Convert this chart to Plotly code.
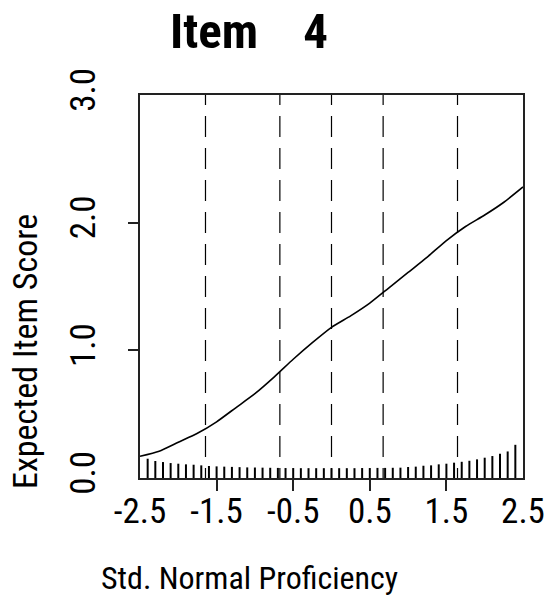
import plotly.graph_objects as go

# ---- data ----
theta = [-2.5, -2.25, -2.0, -1.75, -1.5, -1.25, -1.0, -0.75, -0.5, -0.25,
         0.0, 0.25, 0.5, 0.75, 1.0, 1.25, 1.5, 1.75, 2.0, 2.25, 2.5]
expected_score = [0.17, 0.21, 0.28, 0.35, 0.44, 0.55, 0.66, 0.79, 0.93, 1.06,
                  1.18, 1.27, 1.37, 1.49, 1.61, 1.73, 1.86, 1.97, 2.06, 2.16, 2.28]

rug_x = [round(-2.4 + 0.1 * i, 1) for i in range(49)]
rug_h = [0.151, 0.133, 0.125, 0.117, 0.112, 0.107, 0.104, 0.099, 0.094, 0.091,
         0.089, 0.087, 0.085, 0.083, 0.082, 0.081, 0.080, 0.079, 0.078, 0.078,
         0.077, 0.077, 0.077, 0.077, 0.077, 0.077, 0.077, 0.077, 0.078, 0.078,
         0.079, 0.079, 0.080, 0.081, 0.086, 0.089, 0.096, 0.099, 0.107, 0.112,
         0.120, 0.127, 0.135, 0.146, 0.159, 0.172, 0.190, 0.208, 0.260]

quantiles = [-1.645, -0.674, 0.0, 0.674, 1.645]

x_ticks = [-2.5, -1.5, -0.5, 0.5, 1.5, 2.5]
x_ticktext = ["-2.5", "-1.5", "-0.5", "0.5", "1.5", "2.5"]
x_marks = [-1.5, -0.5, 0.5, 1.5]
y_ticks = [0, 1, 2, 3]
y_ticktext = ["0.0", "1.0", "2.0", "3.0"]
y_marks = [1, 2]

title_text = "Item\u00a0\u00a0\u00a0\u00a04"
x_title = "Std. Normal Proficiency"
y_title = "Expected Item Score"

FONT = "Roboto Condensed, Liberation Sans, Arial, sans-serif"
FS = 35

W, H = 548, 598
L, R, T, B = 140, 25, 95, 120
PW, PH = W - L - R, H - T - B


def px(xp):
    return (xp - L) / PW


def py(yp):
    return (H - B - yp) / PH


fig = go.Figure()

# rug spikes
sx, sy = [], []
for xv, hv in zip(rug_x, rug_h):
    sx += [xv, xv, None]
    sy += [0, hv, None]
fig.add_trace(go.Scatter(x=sx, y=sy, mode="lines",
                         line=dict(color="black", width=2),
                         hoverinfo="skip", showlegend=False))

# dashed quantile lines
dash = "10px,11px," + ",".join(["21px,11px"] * 11) + ",21px,11px"
for q in quantiles:
    fig.add_trace(go.Scatter(x=[q, q], y=[0, 3], mode="lines",
                             line=dict(color="black", width=1.2, dash=dash),
                             hoverinfo="skip", showlegend=False))

# expected score curve
fig.add_trace(go.Scatter(x=theta, y=expected_score, mode="lines",
                         line=dict(color="black", width=1.6, shape="spline", smoothing=0.6),
                         showlegend=False))

# invisible traces to activate overlay axes (tick marks only)
fig.add_trace(go.Scatter(x=x_marks, y=[1.5] * len(x_marks), xaxis="x2", yaxis="y",
                         mode="markers", marker=dict(opacity=0), hoverinfo="skip",
                         showlegend=False))
fig.add_trace(go.Scatter(x=[0, 0], y=y_marks, xaxis="x", yaxis="y2",
                         mode="markers", marker=dict(opacity=0), hoverinfo="skip",
                         showlegend=False))

fig.update_layout(
    width=W, height=H,
    margin=dict(l=L, r=R, t=T, b=B, pad=0, autoexpand=False),
    paper_bgcolor="white", plot_bgcolor="white",
    font=dict(family=FONT, size=FS, color="black"),
    xaxis=dict(range=[-2.5, 2.5], tickmode="array", tickvals=x_ticks, ticktext=x_ticktext,
               ticks="outside", ticklen=1, tickcolor="rgba(0,0,0,0)", automargin=False,
               showline=True, mirror=True, linecolor="#222", linewidth=1.6,
               showgrid=False, zeroline=False, tickfont=dict(size=FS, family=FONT)),
    yaxis=dict(range=[0, 3], tickmode="array", tickvals=y_ticks, ticktext=y_ticktext,
               tickangle=-90, ticks="outside", ticklen=29, tickcolor="rgba(0,0,0,0)",
               automargin=False,
               showline=True, mirror=True, linecolor="#222", linewidth=1.6,
               showgrid=False, zeroline=False, tickfont=dict(size=FS, family=FONT)),
    xaxis2=dict(range=[-2.5, 2.5], overlaying="x", anchor="y", side="bottom",
                tickmode="array", tickvals=x_marks, ticks="outside", ticklen=12,
                tickwidth=1.5, tickcolor="#222", showticklabels=False, automargin=False,
                showline=False, showgrid=False, zeroline=False),
    yaxis2=dict(range=[0, 3], overlaying="y", anchor="x", side="left",
                tickmode="array", tickvals=y_marks, ticks="outside", ticklen=11,
                tickwidth=1.5, tickcolor="#222", showticklabels=False, automargin=False,
                showline=False, showgrid=False, zeroline=False),
    annotations=[
        dict(text="<b>" + title_text + "</b>", xref="paper", yref="paper",
             x=px(168), y=py(31), xanchor="left", yanchor="middle", showarrow=False,
             font=dict(family=FONT, size=49, color="black")),
        dict(text=x_title, xref="paper", yref="paper",
             x=px(249), y=py(578), xanchor="center", yanchor="middle", showarrow=False,
             font=dict(family=FONT, size=32, color="black")),
        dict(text=y_title, xref="paper", yref="paper", textangle=-90,
             x=px(25), y=py(352), xanchor="center", yanchor="middle", showarrow=False,
             font=dict(family=FONT, size=34, color="black")),
    ],
)

fig.write_html("out.html", config={"displayModeBar": False},
               post_script="document.body.style.margin='0';")
